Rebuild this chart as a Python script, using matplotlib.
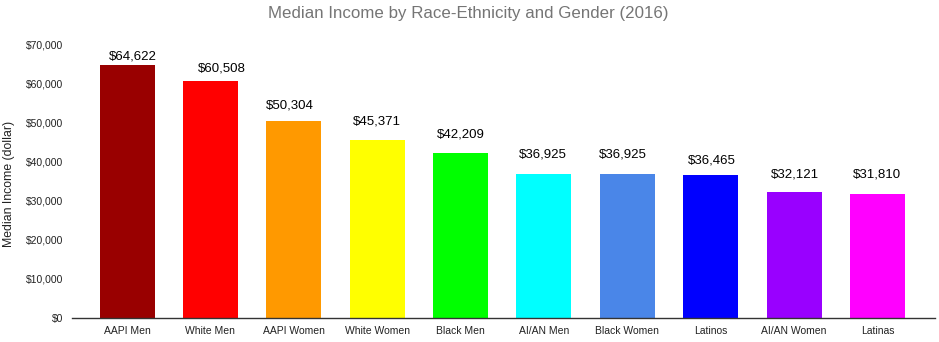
import matplotlib.pyplot as plt
import numpy as np

plt.rcParams["font.family"] = ["Liberation Sans", "DejaVu Sans"]

# Median income by group, 2016
groups = ["AAPI Men", "White Men", "AAPI Women", "White Women", "Black Men",
          "AI/AN Men", "Black Women", "Latinos", "AI/AN Women", "Latinas"]
income = [64622, 60508, 50304, 45371, 42209, 36925, 36925, 36465, 32121, 31810]
bar_colors = ["#990000", "#ff0000", "#ff9900", "#ffff00", "#00ff00",
              "#00ffff", "#4a86e8", "#0000ff", "#9900ff", "#ff00ff"]

# label nudges (points) so the value labels sit like the sheet export
label_dx = [4.5, 8, -3, 0, 0, -1, -3.5, 1, 0.5, 0]
label_dy = [6, 9, 11.5, 14, 13.5, 14, 14, 10.5, 13, 14]

fig = plt.figure(figsize=(9.39, 3.42), dpi=100)
ax = fig.add_axes([0.0767, 0.0702, 0.919, 0.8008])

x = np.arange(len(groups))
bars = ax.bar(x, income, width=0.66, color=bar_colors, zorder=2)

for i, (b, v) in enumerate(zip(bars, income)):
    ax.annotate("${:,}".format(v),
                xy=(b.get_x() + b.get_width() / 2, v),
                xytext=(label_dx[i], label_dy[i]), textcoords="offset points",
                ha="center", va="center", fontsize=9.5, color="#000000")

ax.set_xlim(-0.66, 9.69)
ax.set_ylim(0, 70000)
ax.set_yticks(np.arange(0, 70001, 10000))
ax.set_yticklabels(["${:,}".format(t) for t in range(0, 70001, 10000)])
ax.set_xticks(x)
ax.set_xticklabels(groups)
ax.tick_params(axis="both", length=0, labelsize=7.5, colors="#222222")
ax.tick_params(axis="y", pad=6)
ax.tick_params(axis="x", pad=6)

for side in ["top", "right", "left"]:
    ax.spines[side].set_visible(False)
ax.spines["bottom"].set_color("#333333")
ax.spines["bottom"].set_linewidth(1.0)

ax.set_ylabel("Median Income (dollar)", fontsize=8.8, color="#222222")
ax.yaxis.set_label_coords(-0.0665, 0.49)

fig.suptitle("Median Income by Race-Ethnicity and Gender (2016)",
             x=0.4985, y=0.982, fontsize=12.2, color="#757575")

fig.savefig("out.png", dpi=100)
plt.close(fig)
